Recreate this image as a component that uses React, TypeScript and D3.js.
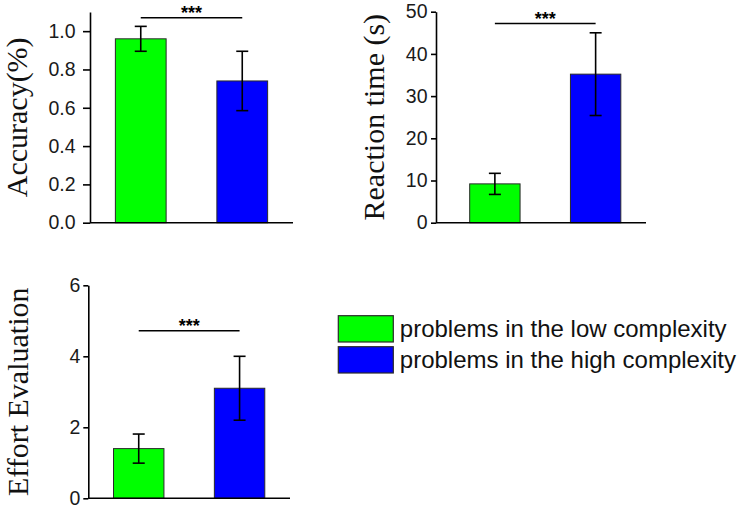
import React, { useEffect, useRef } from 'react';
import * as d3 from 'd3';

// two groups shown in every panel
const groups = ['low', 'high'];
const groupLabels = ['problems in the low complexity', 'problems in the high complexity'];
const groupColors = ['#00ff00', '#0000ff'];

// panel values (mean, error)
const accuracyMeans = [0.96, 0.74];
const accuracyErrors = [0.065, 0.155];
const accuracyTicks = [0, 0.2, 0.4, 0.6, 0.8, 1.0];

const reactionMeans = [9.2, 35.2];
const reactionErrors = [2.5, 9.8];
const reactionTicks = [0, 10, 20, 30, 40, 50];

const effortMeans = [1.4, 3.1];
const effortErrors = [0.41, 0.9];
const effortTicks = [0, 2, 4, 6];

// height of the significance bar, in data units
const sigLevels = [1.07, 47.2, 4.72];

interface PanelSpec {
  title: string;
  means: number[];
  errors: number[];
  ticks: number[];
  yMax: number;
  fmt: string;
  sig: number;
  x0: number; // axis left
  x1: number; // axis right
  bandLeft: number;
  yTop: number;
  yBottom: number;
  tickLen: number;
  tickPad: number;
  labelX: number;
}

const App: React.FC = () => {
  const svgRef = useRef<SVGSVGElement>(null);

  useEffect(() => {
    if (!svgRef.current) return;
    const svg = d3.select(svgRef.current);
    svg.selectAll('*').remove();

    const panels: PanelSpec[] = [
      { title: 'Accuracy(%)', means: accuracyMeans, errors: accuracyErrors, ticks: accuracyTicks, yMax: 1.1, fmt: '.1f', sig: sigLevels[0],
        x0: 90, x1: 293, bandLeft: 90, yTop: 12, yBottom: 222.7, tickLen: 7, tickPad: 7.5, labelX: 27 },
      { title: 'Reaction time (s)', means: reactionMeans, errors: reactionErrors, ticks: reactionTicks, yMax: 50, fmt: 'd', sig: sigLevels[1],
        x0: 436, x1: 646, bandLeft: 444.5, yTop: 11.7, yBottom: 222.7, tickLen: 5, tickPad: 3.5, labelX: 383.5 },
      { title: 'Effort Evaluation', means: effortMeans, errors: effortErrors, ticks: effortTicks, yMax: 6, fmt: 'd', sig: sigLevels[2],
        x0: 88.3, x1: 290, bandLeft: 88.3, yTop: 285.3, yBottom: 498.3, tickLen: 5, tickPad: 3, labelX: 28 },
    ];

    panels.forEach(p => {
      const g = svg.append('g');
      const y = d3.scaleLinear().domain([0, p.yMax]).range([p.yBottom, p.yTop]);
      const x = d3.scaleBand<string>().domain(groups).range([p.bandLeft, p.x1]).paddingInner(0.5).paddingOuter(0.25);

      // bars
      g.selectAll('rect.bar')
        .data(p.means)
        .enter()
        .append('rect')
        .attr('x', (_, i) => x(groups[i])!)
        .attr('y', d => y(d))
        .attr('width', x.bandwidth())
        .attr('height', d => y(0) - y(d))
        .attr('fill', (_, i) => groupColors[i])
        .attr('stroke', '#2a2a2a')
        .attr('stroke-width', 1);

      // error bars
      const cap = 6;
      p.means.forEach((m, i) => {
        const cx = x(groups[i])! + x.bandwidth() / 2;
        const lo = y(m - p.errors[i]);
        const hi = y(m + p.errors[i]);
        g.append('line').attr('x1', cx).attr('x2', cx).attr('y1', lo).attr('y2', hi)
          .attr('stroke', '#000').attr('stroke-width', 1.6);
        [lo, hi].forEach(v => {
          g.append('line').attr('x1', cx - cap).attr('x2', cx + cap).attr('y1', v).attr('y2', v)
            .attr('stroke', '#000').attr('stroke-width', 1.6);
        });
      });

      // y axis
      const axis = d3.axisLeft(y)
        .tickValues(p.ticks)
        .tickFormat(d3.format(p.fmt) as any)
        .tickSize(p.tickLen)
        .tickSizeOuter(0)
        .tickPadding(p.tickPad);
      const ag = g.append('g').attr('transform', `translate(${p.x0},0)`).call(axis);
      ag.select('.domain').attr('stroke', '#000').attr('stroke-width', 1.6);
      ag.selectAll('.tick line').attr('stroke', '#000').attr('stroke-width', 1.6);
      ag.selectAll('.tick text')
        .attr('font-family', 'Liberation Sans, Arial, sans-serif')
        .attr('font-size', 19.5)
        .attr('fill', '#1a1a1a');

      // x axis baseline
      g.append('line').attr('x1', p.x0).attr('x2', p.x1).attr('y1', y(0)).attr('y2', y(0))
        .attr('stroke', '#000').attr('stroke-width', 1.6);

      // significance marker
      const sx0 = x(groups[0])! + x.bandwidth() / 2;
      const sx1 = x(groups[1])! + x.bandwidth() / 2;
      g.append('line').attr('x1', sx0).attr('x2', sx1).attr('y1', y(p.sig)).attr('y2', y(p.sig))
        .attr('stroke', '#000').attr('stroke-width', 1.4);
      g.append('text')
        .attr('x', (sx0 + sx1) / 2)
        .attr('y', y(p.sig) + 1.5)
        .attr('text-anchor', 'middle')
        .attr('font-family', 'Liberation Sans, Arial, sans-serif')
        .attr('font-weight', 'bold')
        .attr('font-size', 18)
        .text('***');

      // y label
      const cy = (p.yTop + p.yBottom) / 2;
      g.append('text')
        .attr('transform', `translate(${p.labelX},${cy}) rotate(-90)`)
        .attr('text-anchor', 'middle')
        .attr('font-family', 'Liberation Serif, Times New Roman, serif')
        .attr('font-size', 30)
        .attr('fill', '#111')
        .text(p.title);
    });

    // legend
    const legend = svg.append('g').attr('transform', 'translate(338.3,315.7)');
    groupLabels.forEach((lbl, i) => {
      legend.append('rect')
        .attr('x', 0)
        .attr('y', i * 31)
        .attr('width', 55)
        .attr('height', 26.3)
        .attr('fill', groupColors[i])
        .attr('stroke', '#2a2a2a')
        .attr('stroke-width', 1.2);
      legend.append('text')
        .attr('x', 61.5)
        .attr('y', i * 31 + 21)
        .attr('font-family', 'Liberation Sans, Arial, sans-serif')
        .attr('font-size', 24)
        .attr('fill', '#111')
        .text(lbl);
    });
  }, []);

  return (
    <svg
      ref={svgRef}
      width={749}
      height={508}
      style={{ position: 'absolute', left: 0, top: 0, background: '#fff' }}
    />
  );
};

export default App;
